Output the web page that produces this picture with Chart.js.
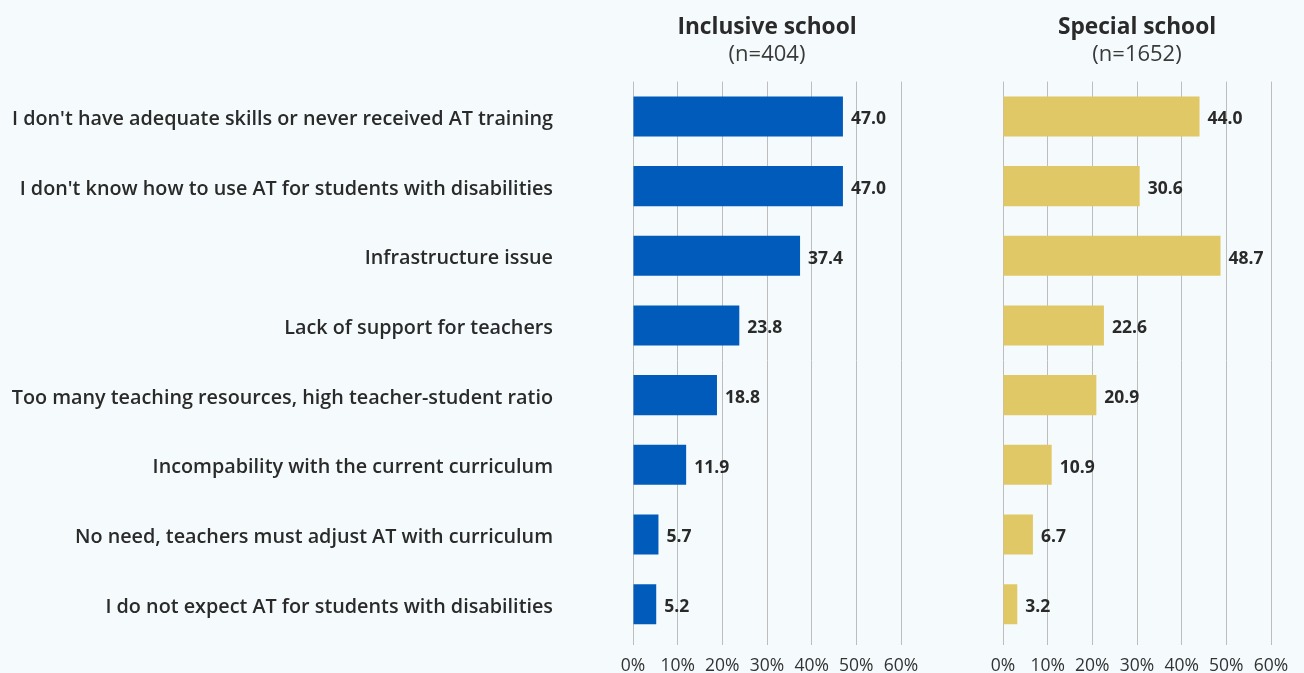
<!DOCTYPE html>
<html>
<head>
<meta charset="utf-8">
<script src="https://cdn.jsdelivr.net/npm/chart.js@4/dist/chart.umd.min.js"></script>
<style>
  html, body { margin: 0; padding: 0; background: #F5FBFC; }
  body { width: 1304px; height: 673px; position: relative; overflow: hidden; }
  #left { position: absolute; left: 0; top: 0; }
  #right { position: absolute; left: 960px; top: 0; }
</style>
</head>
<body>
<canvas id="left" width="940" height="673"></canvas>
<canvas id="right" width="344" height="673"></canvas>
<script>
const categories = [
  "I don't have adequate skills or never received AT training",
  "I don't know how to use AT for students with disabilities",
  "Infrastructure issue",
  "Lack of support for teachers",
  "Too many teaching resources, high teacher-student ratio",
  "Incompability with the current curriculum",
  "No need, teachers must adjust AT with curriculum",
  "I do not expect AT for students with disabilities"
];
const inclusiveValues = [47.0, 47.0, 37.4, 23.8, 18.8, 11.9, 5.7, 5.2];
const specialValues = [44.0, 30.6, 48.7, 22.6, 20.9, 10.9, 6.7, 3.2];

const FONT = '"Open Sans", Lato, sans-serif';
const TEXT = '#2a2a2a';
const GRID = '#bdbdbd';

// bold value printed just past the end of each bar
const valueLabels = {
  id: 'valueLabels',
  afterDatasetsDraw(chart) {
    const ctx = chart.ctx;
    ctx.save();
    ctx.font = 'bold 17.5px ' + FONT;
    ctx.fillStyle = TEXT;
    ctx.textAlign = 'left';
    ctx.textBaseline = 'middle';
    chart.data.datasets.forEach((ds, i) => {
      chart.getDatasetMeta(i).data.forEach((bar, j) => {
        ctx.fillText(ds.data[j].toFixed(1), bar.x + 8, bar.y + 3);
      });
    });
    ctx.restore();
  }
};

function makeChart(id, title, sub, values, color, showLabels, yWidth, padRight) {
  return new Chart(document.getElementById(id), {
    type: 'bar',
    data: {
      labels: categories,
      datasets: [{
        data: values,
        backgroundColor: color,
        barPercentage: 0.575,
        categoryPercentage: 1
      }]
    },
    options: {
      indexAxis: 'y',
      responsive: false,
      animation: false,
      devicePixelRatio: 1,
      layout: { padding: { top: 0, right: padRight, bottom: 0, left: 0 } },
      plugins: {
        legend: { display: false },
        tooltip: { enabled: false },
        title: {
          display: true,
          text: title,
          fullSize: false,
          color: TEXT,
          font: { family: FONT, size: 22.7, weight: 'bold', lineHeight: 1.2 },
          padding: { top: 14, bottom: 0 }
        },
        subtitle: {
          display: true,
          text: sub,
          fullSize: false,
          color: '#3a3a3a',
          font: { family: FONT, size: 22, weight: 'normal', lineHeight: 1.2 },
          padding: { top: 0, bottom: 14 }
        }
      },
      scales: {
        x: {
          min: 0,
          max: 60,
          border: { display: false },
          grid: { color: GRID, lineWidth: 1, drawTicks: true, tickLength: 6, tickColor: GRID },
          ticks: {
            stepSize: 10,
            padding: 11,
            color: '#333',
            font: { family: FONT, size: 17.5 },
            callback: v => v + '%'
          },
          afterFit: s => { s.height = 34; }
        },
        y: {
          border: { display: false },
          // invisible tick marks keep the labels clear of the bars
          grid: { display: true, drawOnChartArea: false, drawTicks: true, tickLength: 80, color: 'transparent' },
          ticks: {
            display: showLabels,
            padding: 0,
            labelOffset: 3,
            color: TEXT,
            font: { family: FONT, size: 19.8, weight: '600' }
          },
          afterFit: s => { s.width = yWidth; }
        }
      }
    },
    plugins: [valueLabels]
  });
}

makeChart('left', 'Inclusive school', '(n=404)', inclusiveValues, '#005BBB', true, 633, 39);
makeChart('right', 'Special school', '(n=1652)', specialValues, '#E0C866', false, 43, 33);
</script>
</body>
</html>
